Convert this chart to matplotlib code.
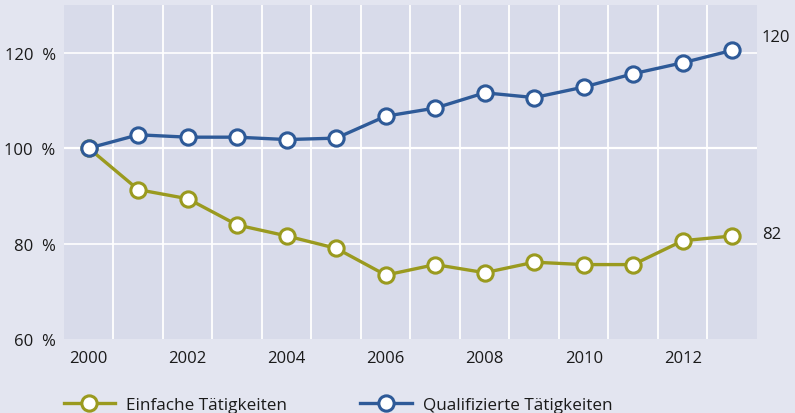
import matplotlib
matplotlib.use('Agg')
import matplotlib.pyplot as plt

# values (index, 2000 = 100 %)
years = list(range(2000, 2014))
einfache = [100, 91.3, 89.4, 83.9, 81.6, 79.0, 73.4, 75.6, 73.9, 76.1, 75.6, 75.6, 80.6, 81.6]
qualifiziert = [100, 102.8, 102.3, 102.3, 101.8, 102.1, 106.7, 108.4, 111.6, 110.6, 112.8, 115.6, 117.9, 120.5]
xtick_years = [2000, 2002, 2004, 2006, 2008, 2010, 2012]
ytick_vals = [60, 80, 100, 120]

olive = '#9a9a1f'
blue = '#2e5a98'

plt.rcParams['font.family'] = ['Open Sans', 'DejaVu Sans']

fig = plt.figure(figsize=(7.95, 4.14), dpi=100, facecolor='#e3e5f0')
ax = fig.add_axes([0.0805, 0.1787, 0.8717, 0.8068])
ax.set_facecolor('#d8dbea')

marker_style = dict(marker='o', markersize=11, markerfacecolor='white', markeredgewidth=2.2)
ax.plot(years, einfache, color=olive, lw=2.4, label='Einfache Tätigkeiten', **marker_style)
ax.plot(years, qualifiziert, color=blue, lw=2.4, label='Qualifizierte Tätigkeiten', **marker_style)

ax.set_xlim(1999.5, 2013.5)
ax.set_ylim(60, 130)

# vertical grid between the years, horizontal at the y ticks
for x in range(2000, 2013):
    ax.axvline(x + 0.5, color='white', lw=1.3, zorder=0)
for y in [80, 100, 120]:
    ax.axhline(y, color='white', lw=1.6 if y == 100 else 1.2, zorder=0)

ax.set_xticks(xtick_years)
ax.set_xticklabels([str(y) for y in xtick_years])
ax.set_yticks(ytick_vals)
ax.set_yticklabels([f'{v}  %' for v in ytick_vals])
ax.tick_params(length=0, labelsize=12, colors='#1a1a1a')
ax.tick_params(axis='x', pad=8)
ax.tick_params(axis='y', pad=6)
for s in ax.spines.values():
    s.set_visible(False)

# end labels right of the plot
ax.text(2013.5 + 0.1, 123.2, '120', fontsize=12, color='#1a1a1a', va='center', ha='left', clip_on=False)
ax.text(2013.5 + 0.1, 82.1, '82', fontsize=12, color='#1a1a1a', va='center', ha='left', clip_on=False)

leg = ax.legend(loc='lower left', bbox_to_anchor=(0.0717, -0.016), bbox_transform=fig.transFigure,
                ncol=2, frameon=False, fontsize=12.3, handlelength=3.0, handletextpad=0.64,
                columnspacing=4.3, borderaxespad=0)
for t in leg.get_texts():
    t.set_color('#1a1a1a')

fig.savefig('out.png', dpi=100, facecolor=fig.get_facecolor())
